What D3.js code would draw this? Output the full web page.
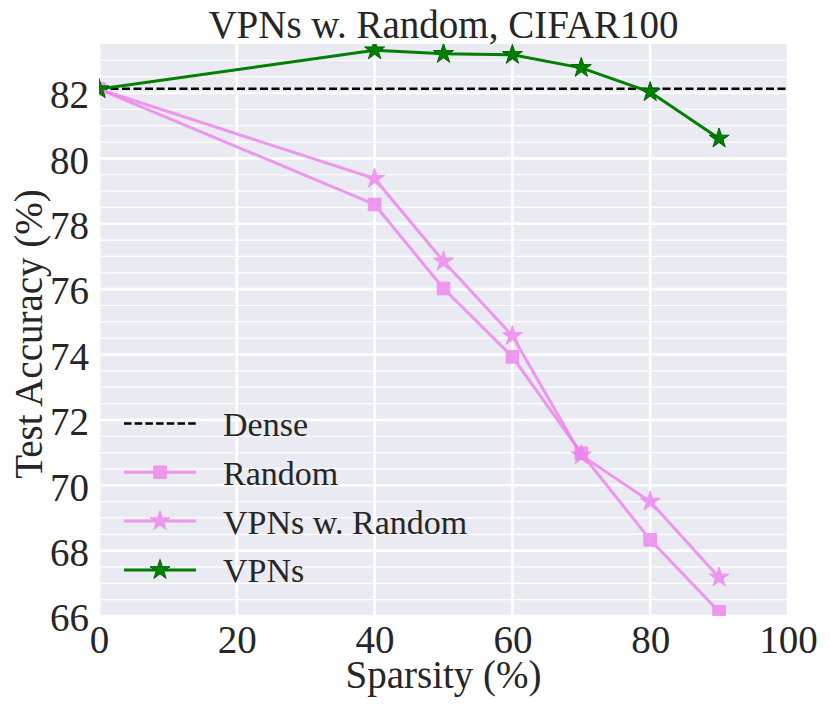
<!DOCTYPE html>
<html>
<head>
<meta charset="utf-8">
<script src="https://cdn.jsdelivr.net/npm/d3@7"></script>
<style>
  body { margin: 0; background: #fff; }
  svg { display: block; }
</style>
</head>
<body>
<div id="chart"></div>
<script>
// values
const sparsity = [0, 40, 50, 60, 70, 80, 90];
const denseAcc = 82.13;
const randomAcc = [82.12, 78.59, 76.02, 73.93, 70.98, 68.33, 66.13];
const vpnRandomAcc = [82.12, 79.38, 76.85, 74.57, 70.92, 69.5, 67.18];
const vpnAcc = [82.12, 83.31, 83.2, 83.17, 82.77, 82.03, 80.61];
const xTicks = [0, 20, 40, 60, 80, 100];
const yTicks = [66, 68, 70, 72, 74, 76, 78, 80, 82];

const W = 830, H = 712;
const margin = { top: 44, right: 42, bottom: 96, left: 99 };
const font = "'Liberation Serif', 'Times New Roman', serif";
const textCol = "#262626";
const pink = "violet";
const green = "green";

const svg = d3.select("#chart")
    .append("svg")
    .attr("width", W)
    .attr("height", H);

const xScale = d3.scaleLinear()
    .domain([0, 100])
    .range([margin.left, W - margin.right]);
const yScale = d3.scaleLinear()
    .domain([66, 83.5])
    .range([H - margin.bottom, margin.top]);

// background
svg.append("rect")
    .attr("x", margin.left)
    .attr("y", margin.top)
    .attr("width", W - margin.left - margin.right)
    .attr("height", H - margin.top - margin.bottom)
    .attr("fill", "#EAEAF2");

svg.append("clipPath").attr("id", "plot-clip")
    .append("rect")
    .attr("x", margin.left)
    .attr("y", margin.top)
    .attr("width", W - margin.left - margin.right)
    .attr("height", H - margin.top - margin.bottom);

// grid: minor every 0.5 on y, major on ticks
const minorY = d3.range(66.5, 83.5, 0.5).filter(v => !yTicks.includes(v));
svg.append("g").selectAll("line")
    .data(minorY)
    .join("line")
    .attr("x1", margin.left).attr("x2", W - margin.right)
    .attr("y1", d => yScale(d)).attr("y2", d => yScale(d))
    .attr("stroke", "#fff").attr("stroke-width", 1.2);
svg.append("g").selectAll("line")
    .data(xTicks)
    .join("line")
    .attr("x1", d => xScale(d)).attr("x2", d => xScale(d))
    .attr("y1", margin.top).attr("y2", H - margin.bottom)
    .attr("stroke", "#fff").attr("stroke-width", 2.6);
svg.append("g").selectAll("line")
    .data(yTicks)
    .join("line")
    .attr("x1", margin.left).attr("x2", W - margin.right)
    .attr("y1", d => yScale(d)).attr("y2", d => yScale(d))
    .attr("stroke", "#fff").attr("stroke-width", 2.6);

// axes (labels only, seaborn style)
svg.append("g")
    .attr("transform", `translate(0,${H - margin.bottom})`)
    .call(d3.axisBottom(xScale).tickValues(xTicks).tickSize(0).tickPadding(9))
    .call(g => g.select(".domain").remove())
    .selectAll("text")
    .attr("font-family", font).attr("font-size", 39).attr("fill", textCol);

svg.append("g")
    .attr("transform", `translate(${margin.left},0)`)
    .call(d3.axisLeft(yScale).tickValues(yTicks).tickSize(0).tickPadding(10))
    .call(g => g.select(".domain").remove())
    .selectAll("text")
    .attr("dy", "0.38em")
    .attr("font-family", font).attr("font-size", 39).attr("fill", textCol);

// titles
svg.append("text")
    .attr("x", (margin.left + W - margin.right) / 2)
    .attr("y", 38)
    .attr("text-anchor", "middle")
    .attr("font-family", font).attr("font-size", 39).attr("fill", textCol)
    .text("VPNs w. Random, CIFAR100");
svg.append("text")
    .attr("x", (margin.left + W - margin.right) / 2)
    .attr("y", 688)
    .attr("text-anchor", "middle")
    .attr("font-family", font).attr("font-size", 39).attr("fill", textCol)
    .text("Sparsity (%)");
svg.append("text")
    .attr("transform", `translate(42,${(margin.top + H - margin.bottom) / 2 + 4}) rotate(-90)`)
    .attr("text-anchor", "middle")
    .attr("font-family", font).attr("font-size", 39).attr("fill", textCol)
    .text("Test Accuracy (%)");

// series
const series = [
    { name: "Random", values: randomAcc, color: pink, symbol: d3.symbolSquare, size: 160, opacity: 0.8 },
    { name: "VPNs w. Random", values: vpnRandomAcc, color: pink, symbol: d3.symbolStar, size: 124, opacity: 0.8 },
    { name: "VPNs", values: vpnAcc, color: green, symbol: d3.symbolStar, size: 124, opacity: 1 }
];

const plot = svg.append("g").attr("clip-path", "url(#plot-clip)");

plot.append("line")
    .attr("x1", margin.left).attr("x2", W - margin.right)
    .attr("y1", yScale(denseAcc)).attr("y2", yScale(denseAcc))
    .attr("stroke", "#000").attr("stroke-width", 2.4)
    .attr("stroke-dasharray", "8,3.5");

const line = d3.line()
    .x((d, i) => xScale(sparsity[i]))
    .y(d => yScale(d));

series.forEach(s => {
    const g = plot.append("g").attr("opacity", s.opacity);
    g.append("path")
        .attr("d", line(s.values))
        .attr("fill", "none")
        .attr("stroke", s.color)
        .attr("stroke-width", 3);
    g.selectAll("path.mk")
        .data(s.values)
        .join("path")
        .attr("class", "mk")
        .attr("transform", (d, i) => `translate(${xScale(sparsity[i])},${yScale(d)})`)
        .attr("d", d3.symbol(s.symbol, s.size))
        .attr("fill", s.color)
        .attr("stroke", s.color === green ? "#006400" : s.color)
        .attr("stroke-width", 1);
});

// legend
const legend = svg.append("g");
const legendRows = [{ name: "Dense", dense: true }].concat(series);
legendRows.forEach((s, i) => {
    const y = 423.5 + i * 48.8;
    const g = legend.append("g");
    if (s.dense) {
        g.append("line")
            .attr("x1", 124).attr("x2", 196).attr("y1", y).attr("y2", y)
            .attr("stroke", "#000").attr("stroke-width", 2.4)
            .attr("stroke-dasharray", "7.5,3.2");
    } else {
        const m = g.append("g").attr("opacity", s.opacity);
        m.append("line")
            .attr("x1", 124).attr("x2", 196).attr("y1", y).attr("y2", y)
            .attr("stroke", s.color).attr("stroke-width", 3);
        m.append("path")
            .attr("transform", `translate(160,${y})`)
            .attr("d", d3.symbol(s.symbol, s.size))
            .attr("fill", s.color)
            .attr("stroke", s.color === green ? "#006400" : s.color)
            .attr("stroke-width", 1);
    }
    g.append("text")
        .attr("x", 223).attr("y", y + 12.5)
        .attr("font-family", font).attr("font-size", 34).attr("fill", textCol)
        .text(s.name);
});
</script>
</body>
</html>
